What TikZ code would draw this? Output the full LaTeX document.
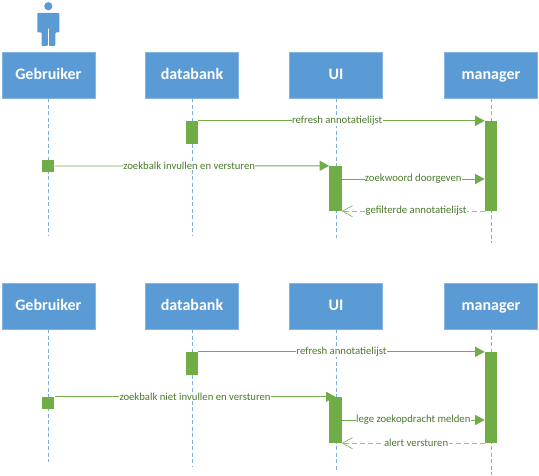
\documentclass[tikz,border=0pt]{standalone}
\usepackage{fontspec}
\setmainfont{Carlito}
\usetikzlibrary{arrows.meta}
\definecolor{blu}{HTML}{5B9BD5}
\definecolor{grn}{HTML}{70AD47}
\definecolor{txtg}{HTML}{4A7A2C}
\tikzset{
 x=1pt,y=-1pt,
 headbox/.style={fill=blu,draw=blu!75!white,line width=.4pt,minimum width=93pt,minimum height=46pt,inner sep=0pt,text=white,text height=12.5pt,text depth=2.5pt,font=\fontsize{16}{18}\selectfont\bfseries},
 act/.style={fill=grn,draw=none,minimum width=12.2pt,inner sep=0pt},
 life/.style={draw=blu!80!white,line width=.7pt,dash pattern=on 4pt off 2.5pt},
 msg/.style={draw=grn,line width=.9pt,-{Triangle[length=9.5pt,width=10pt,fill=grn]}},
 ret/.style={draw=grn!70!white,line width=.8pt,dash pattern=on 5pt off 3pt,-{Straight Barb[length=10pt,width=11pt,line width=.6pt,color=grn]}},
 lbl/.style={fill=white,inner sep=.4pt,text=txtg,font=\fontsize{10.7}{11}\selectfont},
}
\begin{document}
\begin{tikzpicture}
\useasboundingbox (0,0) rectangle (539,476);
% actor
\fill[blu] (48.3,6.2) circle (4.1);
\fill[blu,rounded corners=.8pt] (37.4,13) -- (59.4,13) -- (59.4,32.5) -- (55.3,32.5) -- (55.3,46) -- (49,46) -- (49,28) -- (47.8,28) -- (47.8,46) -- (41.6,46) -- (41.6,32.5) -- (37.4,32.5) -- cycle;
% upper heads
\node[headbox] (g1) at (48.3,75) {Gebruiker};
\node[headbox] (d1) at (192,75) {databank};
\node[headbox] (u1) at (336,75) {UI};
\node[headbox] (m1) at (491,75) {manager};
% lower heads
\node[headbox] (g2) at (48.3,306) {Gebruiker};
\node[headbox] (d2) at (192,306) {databank};
\node[headbox] (u2) at (336,306) {UI};
\node[headbox] (m2) at (491,306) {manager};
% lifeline ends
\coordinate (g1e) at (48.3,236);
\coordinate (d1e) at (192,236);
\coordinate (u1e) at (336,238);
\coordinate (m1e) at (491,243);
\coordinate (g2e) at (48.3,462);
\coordinate (d2e) at (192,467);
\coordinate (u2e) at (336,470);
\coordinate (m2e) at (491,475);
\foreach \a/\b in {g1/g1e,d1/d1e,u1/u1e,m1/m1e,g2/g2e,d2/d2e,u2/u2e,m2/m2e}
  \draw[life] (\a.south) -- (\b);
% activations upper
\node[act,minimum height=23pt] (da1) at (192,132.5) {};
\node[act,minimum height=12pt] (ga1) at (48.3,166) {};
\node[act,minimum height=45pt] (ua1) at (335.5,188.5) {};
\node[act,minimum height=90pt] (ma1) at (491,166) {};
% activations lower
\node[act,minimum height=23pt] (da2) at (192,363.5) {};
\node[act,minimum height=12pt] (ga2) at (48.3,403) {};
\node[act,minimum height=46pt] (ua2) at (335.5,420) {};
\node[act,minimum height=91pt] (ma2) at (491,397.5) {};
% upper messages
\draw[msg] (da1.north east) -- node[lbl,pos=.485] {refresh annotatielijst} (ma1.north west);
\draw[msg] (ga1.east) -- node[lbl,pos=.49] {zoekbalk invullen en versturen} (ua1.north west);
\draw[msg] (ua1.east |- 0,179) -- node[lbl] {zoekwoord doorgeven} (ma1.west |- 0,179);
\draw[ret] (ma1.south west) -- node[lbl,pos=.48] {gefilterde annotatielijst} (ua1.south east);
% lower messages
\draw[msg] (da2.north east) -- node[lbl,pos=.5] {refresh annotatielijst} (ma2.north west);
\draw[msg] (ga2.north east) -- node[lbl,pos=.5] {zoekbalk niet invullen en versturen} (ua2.north);
\draw[msg] (ua2.east |- 0,420) -- node[lbl] {lege zoekopdracht melden} (ma2.west |- 0,420);
\draw[ret] (ma2.south west) -- node[lbl,pos=.48] {alert versturen} (ua2.south east);
\end{tikzpicture}
\end{document}
